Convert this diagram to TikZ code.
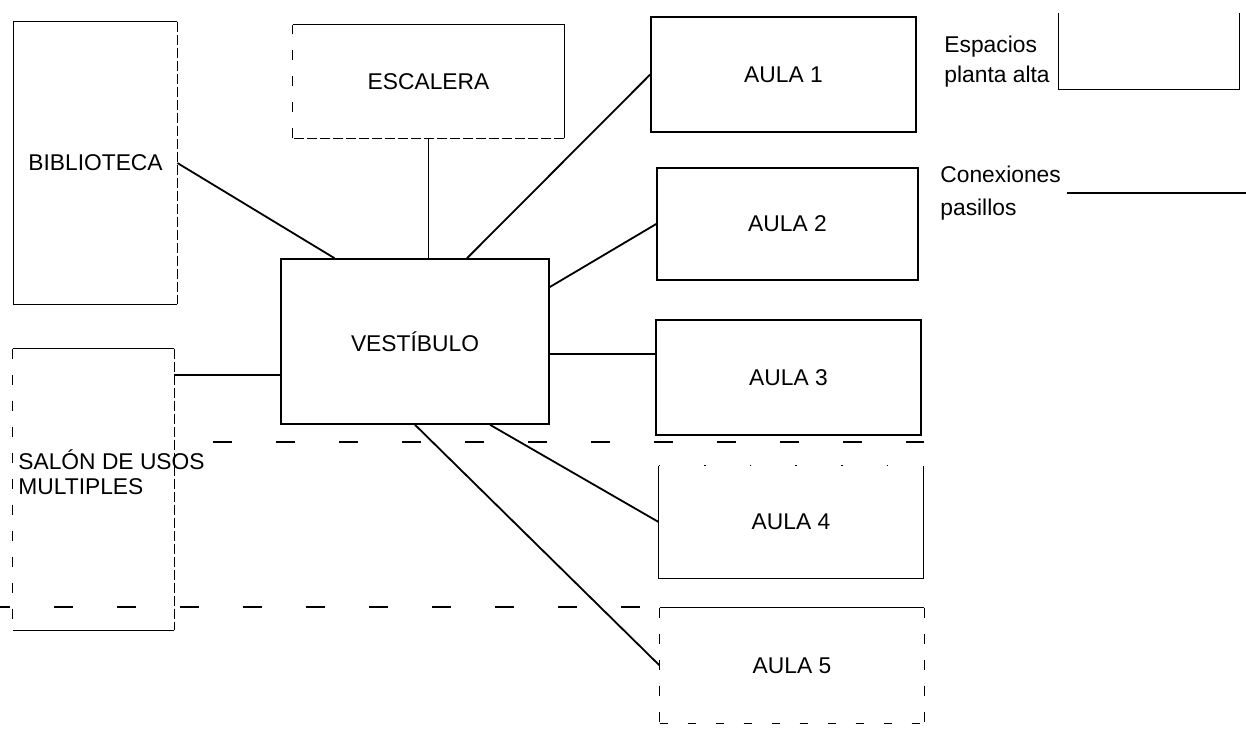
\documentclass[tikz,border=0pt]{standalone}
\usepackage{fontspec}
\setmainfont{Liberation Sans}
\newcommand{\rotulo}{\fontsize{11.4}{14}\selectfont}
\tikzset{
	espacio/.style={inner sep=0pt, font=\rotulo},
	pared/.style={line width=0.8pt},
	cerrado/.style={espacio, draw, pared},
	rota/.style={pared, dash pattern=on 5pt off 1.5pt},
	rala/.style={pared, dash pattern=on 5pt off 8pt},
	punteada/.style={pared, dash pattern=on 0.8pt off 22pt},
	conexion/.style={line width=0.9pt},
	franja/.style={pared, dash pattern=on 9.5pt off 22pt}
}

\begin{document}
\begin{tikzpicture}[x=0.5pt,y=-0.5pt]
	\useasboundingbox (0,0) rectangle (1246,729);
	\node[espacio, minimum width=81.5pt, minimum height=141pt] (bib) at (95.5,163) {BIBLIOTECA};
	\node[espacio, minimum width=135.5pt, minimum height=56.5pt] (esc) at (428.5,81.5) {ESCALERA};
	\node[cerrado, minimum width=134pt, minimum height=82.5pt] (vest) at (415,341.5) {VESTÍBULO};
	\node[espacio, minimum width=80.5pt, minimum height=140.5pt] (salon) at (93.5,489.5) {};
	\node[espacio, font={\fontsize{11.4}{12.5}\selectfont}, align=left, anchor=west] (salontxt) at (18,472.5) {SALÓN DE USOS\\MULTIPLES};
	\node[cerrado, minimum width=132.5pt, minimum height=57.5pt] (aula1) at (783.5,74.5) {AULA 1};
	\node[cerrado, minimum width=130.5pt, minimum height=56pt] (aula2) at (787.5,224) {AULA 2};
	\node[cerrado, minimum width=132.5pt, minimum height=57.5pt] (aula3) at (788.5,377.5) {AULA 3};
	\node[espacio, minimum width=132pt, minimum height=56pt] (aula4) at (791,522) {AULA 4};
	\node[espacio, minimum width=132pt, minimum height=57.5pt] (aula5) at (792,665.5) {AULA 5};
	\node[espacio, font={\fontsize{11.4}{15}\selectfont}, align=left, anchor=west] (leyesp) at (944,62) {Espacios\\planta alta};
	\node[espacio, minimum width=90pt, minimum height=38pt] (muestra) at (1149,51) {};
	\node[espacio, font={\fontsize{11.4}{16.5}\selectfont}, align=left, anchor=west] (leypas) at (940,193) {Conexiones\\pasillos};
	\coordinate (pasfin) at (1246,193);

	\draw[pared] (bib.north east) -- (bib.north west) -- (bib.south west) -- (bib.south east);
	\draw[rota] (bib.north east) -- (bib.south east);
	\draw[pared] (esc.north west) -- (esc.north east) -- (esc.south east);
	\draw[rota] (esc.south east) -- (esc.south west);
	\draw[rala] (esc.south west) -- (esc.north west);
	\draw[pared] (salon.south east) -- (salon.south west);
	\draw[pared] (salon.north west) -- (salon.north east);
	\draw[rala] (salon.north west) -- (salon.south west);
	\draw[rota] (salon.north east) -- (salon.south east);
	\draw[pared] (aula4.north west) -- (aula4.south west) -- (aula4.south east) -- (aula4.north east);
	\draw[punteada] (aula4.north west) -- (aula4.north east);
	\draw[pared] (aula5.north west) -- (aula5.north east);
	\draw[rala] (aula5.north west) -- (aula5.south west);
	\draw[rala] (aula5.north east) -- (aula5.south east);
	\draw[pared, dash pattern=on 4pt off 10pt] (aula5.south west) -- (aula5.south east);
	\draw[pared] (muestra.north west) -- (muestra.south west) -- (muestra.south east) -- (muestra.north east);

	\draw[franja] (213,442) -- (924,442);
	\draw[franja, dash phase=4.5pt] (0,607) -- (660,607);

	\coordinate (c3) at ([yshift=11.75pt]aula3.west);
	\coordinate (cs) at ([yshift=-16.75pt]vest.west);
	\draw[conexion] (bib.east) -- (vest.134);
	\draw[conexion] (esc.south) -- (esc.south |- vest.north);
	\draw[conexion] (aula1.west) -- (vest.58);
	\draw[conexion] (aula2.west) -- (vest.22);
	\draw[conexion] (vest.east |- c3) -- (c3);
	\draw[conexion] (aula4.west) -- (vest.312);
	\draw[conexion] (aula5.west) -- (vest.south);
	\draw[line width=1.3pt] (salon.east |- cs) -- (cs);
	\draw[conexion] ([xshift=3pt]leypas.east |- pasfin) -- (pasfin);
\end{tikzpicture}
\end{document}
